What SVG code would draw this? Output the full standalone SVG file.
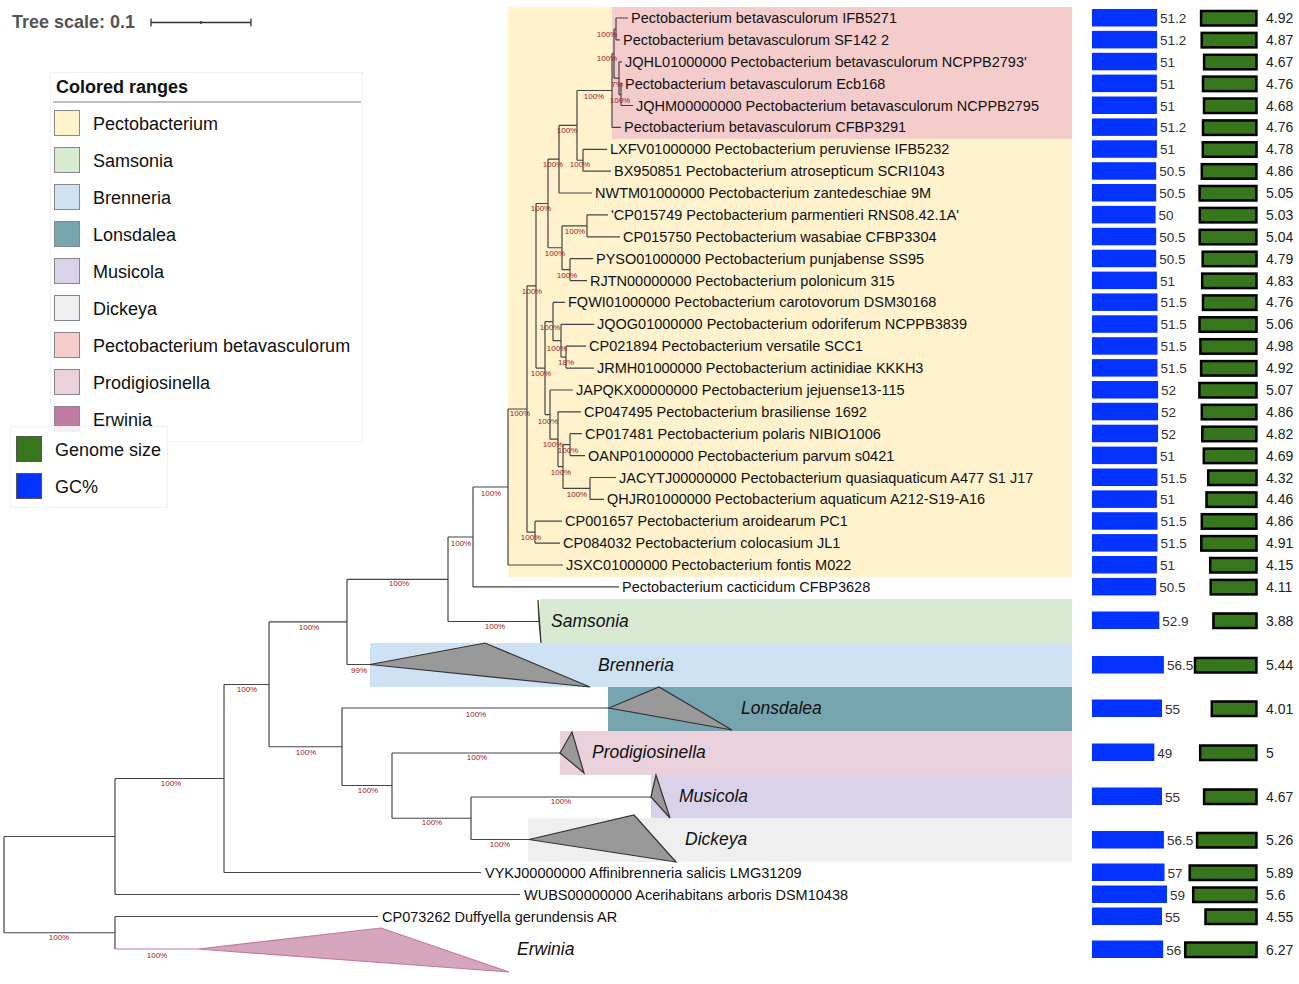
<svg xmlns="http://www.w3.org/2000/svg" width="1299" height="984" viewBox="0 0 1299 984">
<style>
text{font-family:"Liberation Sans",Arial,Helvetica,sans-serif}
.lf{font-size:14.5px;fill:#111}
.cl{font-size:17.5px;font-style:italic;fill:#111}
.bs{font-size:8px;fill:#992222;text-anchor:middle}
.br{fill:none;stroke:#444;stroke-width:1.2}
.tri{fill:#999;stroke:#333;stroke-width:1.2}
.gc{fill:#0433ff}
.gs{fill:#38761d;stroke:#000;stroke-width:2.5}
.v1{font-size:13.5px;fill:#333}
.v2{font-size:14px;fill:#222}
.lg{font-size:18px;fill:#111}
.sw{stroke:#888;stroke-width:1}
</style>
<rect width="1299" height="984" fill="#fff"/>
<g id="tree-scale">
<text x="12" y="28" style="font-size:18px;font-weight:bold;fill:#555">Tree scale: 0.1</text>
<path d="M151 22.5H251M151 18.5V26.5M251 18.5V26.5M201 21V24" stroke="#333" stroke-width="1.3" fill="none"/>
</g>
<g id="ranges">
<rect x="508" y="7" width="564" height="570" fill="#fff2cc"/>
<rect x="612" y="7" width="460" height="132" fill="#f4cccc"/>
<rect x="540" y="599" width="532" height="44" fill="#d9ead3"/>
<rect x="370" y="643" width="702" height="44" fill="#cfe2f3"/>
<rect x="608" y="687" width="464" height="44" fill="#76a5af"/>
<rect x="560" y="731" width="512" height="44" fill="#ead1dc"/>
<rect x="651" y="775" width="421" height="43" fill="#d9d2e9"/>
<rect x="528" y="818" width="544" height="44" fill="#efefef"/>
</g>
<g id="connectors">
<path class="br" d="M616 18V39.9M616 18H628M616 39.9H620M621 83.6V105.5M621 83.6H622.5M621 105.5H633M619 61.8V94.6M619 61.8H622M619 94.6H621M614 29V78.2M614 29H616M614 78.2H619M612 53.6V127.4M612 53.6H614M612 127.4H621M577 90.5V160.25M577 90.5H612M577 160.25H583M583 149.3V171.2M583 149.3H607M583 171.2H611M559 125.4V193M559 125.4H577M559 193H592M548 159.2V247.75M548 159.2H559M548 247.75H562M562 225.85V269.65M562 225.85H587M562 269.65H570M587 214.9V236.8M587 214.9H608M587 236.8H620M570 258.7V280.6M570 258.7H593M570 280.6H587M536 203.5V368.1M536 203.5H548M536 368.1H545M545 321.6V414.6M545 321.6H553M545 414.6H550M553 302.4V340.7M553 302.4H565M553 340.7H561M561 324.3V357.15M561 324.3H594M561 357.15H566M566 346.2V368.1M566 346.2H586M566 368.1H594M550 390V439.2M550 390H573M550 439.2H558M558 411.8V466.55M558 411.8H581M558 466.55H563M563 444.65V488.45M563 444.65H570M563 488.45H590M570 433.7V455.6M570 433.7H582M570 455.6H585M590 477.5V499.4M590 477.5H616M590 499.4H604M527 285.8V532.15M527 285.8H536M527 532.15H535M535 521.2V543.1M535 521.2H562M535 543.1H560M508 409V565M508 409H527M508 565H563M473 487V586.9M473 487H508M473 586.9H619M448 537V621.5M448 537H473M448 621.5H539M347 579.3V664.5M347 579.3H448M347 664.5H370M269 621.9V746.75M269 621.9H347M269 746.75H342M342 708V785.5M342 708H609M342 785.5H392M392 753V818.25M392 753H560M392 818.25H471M471 797V839.5M471 797H651M471 839.5H529M224 684.5V872.5M224 684.5H269M224 872.5H481M115 778.5V894.5M115 778.5H224M115 894.5H520M115 916.5V949M115 916.5H378M4 836.5V932.75M4 836.5H115M4 932.75H115"/>
<path d="M115 949H198" stroke="#c27ba0" stroke-width="1.2" fill="none"/>
</g>
<g id="bootstrap">
<text class="bs" x="607" y="37">100%</text>
<text class="bs" x="607" y="61">100%</text>
<text class="bs" x="617" y="87">7%</text>
<text class="bs" x="594" y="99">100%</text>
<text class="bs" x="620" y="103">100%</text>
<text class="bs" x="567" y="133">100%</text>
<text class="bs" x="553" y="167">100%</text>
<text class="bs" x="580" y="167">100%</text>
<text class="bs" x="541" y="211">100%</text>
<text class="bs" x="575" y="234">100%</text>
<text class="bs" x="555" y="256">100%</text>
<text class="bs" x="567" y="278">100%</text>
<text class="bs" x="532" y="294">100%</text>
<text class="bs" x="550" y="330">100%</text>
<text class="bs" x="557" y="351">100%</text>
<text class="bs" x="566" y="365">18%</text>
<text class="bs" x="541" y="376">100%</text>
<text class="bs" x="520" y="416">100%</text>
<text class="bs" x="548" y="424">100%</text>
<text class="bs" x="553" y="447">100%</text>
<text class="bs" x="568" y="453">100%</text>
<text class="bs" x="561" y="475">100%</text>
<text class="bs" x="577" y="497">100%</text>
<text class="bs" x="531" y="540">100%</text>
<text class="bs" x="491" y="496">100%</text>
<text class="bs" x="461" y="546">100%</text>
<text class="bs" x="399" y="586">100%</text>
<text class="bs" x="495" y="629">100%</text>
<text class="bs" x="309" y="630">100%</text>
<text class="bs" x="359" y="673">99%</text>
<text class="bs" x="247" y="692">100%</text>
<text class="bs" x="476" y="717">100%</text>
<text class="bs" x="306" y="755">100%</text>
<text class="bs" x="477" y="760">100%</text>
<text class="bs" x="368" y="793">100%</text>
<text class="bs" x="561" y="804">100%</text>
<text class="bs" x="432" y="825">100%</text>
<text class="bs" x="500" y="847">100%</text>
<text class="bs" x="171" y="786">100%</text>
<text class="bs" x="59" y="940">100%</text>
<text class="bs" x="157" y="958">100%</text>
</g>
<g id="leaves">
<g id="leaf1"><text class="lf" x="631" y="23">Pectobacterium betavasculorum IFB5271</text><rect class="gc" x="1092" y="9" width="65.1" height="17.5"/><text class="v1" x="1160" y="23">51.2</text><rect class="gs" x="1201.1" y="11" width="55.3" height="14.5"/><text class="v2" x="1266" y="23">4.92</text></g>
<g id="leaf2"><text class="lf" x="623" y="44.9">Pectobacterium betavasculorum SF142 2</text><rect class="gc" x="1092" y="30.9" width="65.1" height="17.5"/><text class="v1" x="1160" y="44.9">51.2</text><rect class="gs" x="1201.7" y="32.9" width="54.7" height="14.5"/><text class="v2" x="1266" y="44.9">4.87</text></g>
<g id="leaf3"><text class="lf" x="625" y="66.8">JQHL01000000 Pectobacterium betavasculorum NCPPB2793'</text><rect class="gc" x="1092" y="52.8" width="64.9" height="17.5"/><text class="v1" x="1160" y="66.8">51</text><rect class="gs" x="1204.1" y="54.8" width="52.4" height="14.5"/><text class="v2" x="1266" y="66.8">4.67</text></g>
<g id="leaf4"><text class="lf" x="625" y="88.6">Pectobacterium betavasculorum Ecb168</text><rect class="gc" x="1092" y="74.6" width="64.9" height="17.5"/><text class="v1" x="1160" y="88.6">51</text><rect class="gs" x="1203" y="76.6" width="53.4" height="14.5"/><text class="v2" x="1266" y="88.6">4.76</text></g>
<g id="leaf5"><text class="lf" x="636" y="110.5">JQHM00000000 Pectobacterium betavasculorum NCPPB2795</text><rect class="gc" x="1092" y="96.5" width="64.9" height="17.5"/><text class="v1" x="1160" y="110.5">51</text><rect class="gs" x="1204" y="98.5" width="52.5" height="14.5"/><text class="v2" x="1266" y="110.5">4.68</text></g>
<g id="leaf6"><text class="lf" x="624" y="132.4">Pectobacterium betavasculorum CFBP3291</text><rect class="gc" x="1092" y="118.4" width="65.1" height="17.5"/><text class="v1" x="1160" y="132.4">51.2</text><rect class="gs" x="1203" y="120.4" width="53.4" height="14.5"/><text class="v2" x="1266" y="132.4">4.76</text></g>
<g id="leaf7"><text class="lf" x="610" y="154.3">LXFV01000000 Pectobacterium peruviense IFB5232</text><rect class="gc" x="1092" y="140.3" width="64.9" height="17.5"/><text class="v1" x="1160" y="154.3">51</text><rect class="gs" x="1202.8" y="142.3" width="53.7" height="14.5"/><text class="v2" x="1266" y="154.3">4.78</text></g>
<g id="leaf8"><text class="lf" x="614" y="176.2">BX950851 Pectobacterium atrosepticum SCRI1043</text><rect class="gc" x="1092" y="162.2" width="64.2" height="17.5"/><text class="v1" x="1159.2" y="176.2">50.5</text><rect class="gs" x="1201.8" y="164.2" width="54.6" height="14.5"/><text class="v2" x="1266" y="176.2">4.86</text></g>
<g id="leaf9"><text class="lf" x="595" y="198">NWTM01000000 Pectobacterium zantedeschiae 9M</text><rect class="gc" x="1092" y="184" width="64.2" height="17.5"/><text class="v1" x="1159.2" y="198">50.5</text><rect class="gs" x="1199.6" y="186" width="56.8" height="14.5"/><text class="v2" x="1266" y="198">5.05</text></g>
<g id="leaf10"><text class="lf" x="611" y="219.9">'CP015749 Pectobacterium parmentieri RNS08.42.1A'</text><rect class="gc" x="1092" y="205.9" width="63.6" height="17.5"/><text class="v1" x="1158.6" y="219.9">50</text><rect class="gs" x="1199.8" y="207.9" width="56.6" height="14.5"/><text class="v2" x="1266" y="219.9">5.03</text></g>
<g id="leaf11"><text class="lf" x="623" y="241.8">CP015750 Pectobacterium wasabiae CFBP3304</text><rect class="gc" x="1092" y="227.8" width="64.2" height="17.5"/><text class="v1" x="1159.2" y="241.8">50.5</text><rect class="gs" x="1199.7" y="229.8" width="56.7" height="14.5"/><text class="v2" x="1266" y="241.8">5.04</text></g>
<g id="leaf12"><text class="lf" x="596" y="263.7">PYSO01000000 Pectobacterium punjabense SS95</text><rect class="gc" x="1092" y="249.7" width="64.2" height="17.5"/><text class="v1" x="1159.2" y="263.7">50.5</text><rect class="gs" x="1202.7" y="251.7" width="53.8" height="14.5"/><text class="v2" x="1266" y="263.7">4.79</text></g>
<g id="leaf13"><text class="lf" x="590" y="285.6">RJTN00000000 Pectobacterium polonicum 315</text><rect class="gc" x="1092" y="271.6" width="64.9" height="17.5"/><text class="v1" x="1160" y="285.6">51</text><rect class="gs" x="1202.2" y="273.6" width="54.3" height="14.5"/><text class="v2" x="1266" y="285.6">4.83</text></g>
<g id="leaf14"><text class="lf" x="568" y="307.4">FQWI01000000 Pectobacterium carotovorum DSM30168</text><rect class="gc" x="1092" y="293.4" width="65.5" height="17.5"/><text class="v1" x="1160.5" y="307.4">51.5</text><rect class="gs" x="1203" y="295.4" width="53.4" height="14.5"/><text class="v2" x="1266" y="307.4">4.76</text></g>
<g id="leaf15"><text class="lf" x="597" y="329.3">JQOG01000000 Pectobacterium odoriferum NCPPB3839</text><rect class="gc" x="1092" y="315.3" width="65.5" height="17.5"/><text class="v1" x="1160.5" y="329.3">51.5</text><rect class="gs" x="1199.5" y="317.3" width="57" height="14.5"/><text class="v2" x="1266" y="329.3">5.06</text></g>
<g id="leaf16"><text class="lf" x="589" y="351.2">CP021894 Pectobacterium versatile SCC1</text><rect class="gc" x="1092" y="337.2" width="65.5" height="17.5"/><text class="v1" x="1160.5" y="351.2">51.5</text><rect class="gs" x="1200.4" y="339.2" width="56" height="14.5"/><text class="v2" x="1266" y="351.2">4.98</text></g>
<g id="leaf17"><text class="lf" x="597" y="373.1">JRMH01000000 Pectobacterium actinidiae KKKH3</text><rect class="gc" x="1092" y="359.1" width="65.5" height="17.5"/><text class="v1" x="1160.5" y="373.1">51.5</text><rect class="gs" x="1201.1" y="361.1" width="55.3" height="14.5"/><text class="v2" x="1266" y="373.1">4.92</text></g>
<g id="leaf18"><text class="lf" x="576" y="395">JAPQKX00000000 Pectobacterium jejuense13-115</text><rect class="gc" x="1092" y="381" width="66.1" height="17.5"/><text class="v1" x="1161.1" y="395">52</text><rect class="gs" x="1199.4" y="383" width="57.1" height="14.5"/><text class="v2" x="1266" y="395">5.07</text></g>
<g id="leaf19"><text class="lf" x="584" y="416.8">CP047495 Pectobacterium brasiliense 1692</text><rect class="gc" x="1092" y="402.8" width="66.1" height="17.5"/><text class="v1" x="1161.1" y="416.8">52</text><rect class="gs" x="1201.8" y="404.8" width="54.6" height="14.5"/><text class="v2" x="1266" y="416.8">4.86</text></g>
<g id="leaf20"><text class="lf" x="585" y="438.7">CP017481 Pectobacterium polaris NIBIO1006</text><rect class="gc" x="1092" y="424.7" width="66.1" height="17.5"/><text class="v1" x="1161.1" y="438.7">52</text><rect class="gs" x="1202.3" y="426.7" width="54.1" height="14.5"/><text class="v2" x="1266" y="438.7">4.82</text></g>
<g id="leaf21"><text class="lf" x="588" y="460.6">OANP01000000 Pectobacterium parvum s0421</text><rect class="gc" x="1092" y="446.6" width="64.9" height="17.5"/><text class="v1" x="1160" y="460.6">51</text><rect class="gs" x="1203.8" y="448.6" width="52.6" height="14.5"/><text class="v2" x="1266" y="460.6">4.69</text></g>
<g id="leaf22"><text class="lf" x="619" y="482.5">JACYTJ00000000 Pectobacterium quasiaquaticum A477 S1 J17</text><rect class="gc" x="1092" y="468.5" width="65.5" height="17.5"/><text class="v1" x="1160.5" y="482.5">51.5</text><rect class="gs" x="1208.2" y="470.5" width="48.3" height="14.5"/><text class="v2" x="1266" y="482.5">4.32</text></g>
<g id="leaf23"><text class="lf" x="607" y="504.4">QHJR01000000 Pectobacterium aquaticum A212-S19-A16</text><rect class="gc" x="1092" y="490.4" width="64.9" height="17.5"/><text class="v1" x="1160" y="504.4">51</text><rect class="gs" x="1206.5" y="492.4" width="49.9" height="14.5"/><text class="v2" x="1266" y="504.4">4.46</text></g>
<g id="leaf24"><text class="lf" x="565" y="526.2">CP001657 Pectobacterium aroidearum PC1</text><rect class="gc" x="1092" y="512.2" width="65.5" height="17.5"/><text class="v1" x="1160.5" y="526.2">51.5</text><rect class="gs" x="1201.8" y="514.2" width="54.6" height="14.5"/><text class="v2" x="1266" y="526.2">4.86</text></g>
<g id="leaf25"><text class="lf" x="563" y="548.1">CP084032 Pectobacterium colocasium JL1</text><rect class="gc" x="1092" y="534.1" width="65.5" height="17.5"/><text class="v1" x="1160.5" y="548.1">51.5</text><rect class="gs" x="1201.3" y="536.1" width="55.2" height="14.5"/><text class="v2" x="1266" y="548.1">4.91</text></g>
<g id="leaf26"><text class="lf" x="566" y="570">JSXC01000000 Pectobacterium fontis M022</text><rect class="gc" x="1092" y="556" width="64.9" height="17.5"/><text class="v1" x="1160" y="570">51</text><rect class="gs" x="1210.2" y="558" width="46.3" height="14.5"/><text class="v2" x="1266" y="570">4.15</text></g>
<g id="leaf27"><text class="lf" x="622" y="591.9">Pectobacterium cacticidum CFBP3628</text><rect class="gc" x="1092" y="577.9" width="64.2" height="17.5"/><text class="v1" x="1159.2" y="591.9">50.5</text><rect class="gs" x="1210.7" y="579.9" width="45.8" height="14.5"/><text class="v2" x="1266" y="591.9">4.11</text></g>
<g id="leaf-vykj"><text class="lf" x="485" y="877.5">VYKJ00000000 Affinibrenneria salicis LMG31209</text><rect class="gc" x="1092" y="863.5" width="72.5" height="17.5"/><text class="v1" x="1167.5" y="877.5">57</text><rect class="gs" x="1189.7" y="865.5" width="66.7" height="14.5"/><text class="v2" x="1266" y="877.5">5.89</text></g>
<g id="leaf-wubs"><text class="lf" x="524" y="899.5">WUBS00000000 Acerihabitans arboris DSM10438</text><rect class="gc" x="1092" y="885.5" width="75" height="17.5"/><text class="v1" x="1170" y="899.5">59</text><rect class="gs" x="1193.2" y="887.5" width="63.3" height="14.5"/><text class="v2" x="1266" y="899.5">5.6</text></g>
<g id="leaf-cp073262"><text class="lf" x="382" y="921.5">CP073262 Duffyella gerundensis AR</text><rect class="gc" x="1092" y="907.5" width="70" height="17.5"/><text class="v1" x="1165" y="921.5">55</text><rect class="gs" x="1205.5" y="909.5" width="51" height="14.5"/><text class="v2" x="1266" y="921.5">4.55</text></g>
</g>
<g id="clades">
<g id="samsonia"><polygon class="tri" points="539,621.5 538,600 541,643"/><text class="cl" x="551" y="626.5">Samsonia</text><rect class="gc" x="1092" y="611.5" width="67.3" height="17.5"/><text class="v1" x="1162.3" y="625.5">52.9</text><rect class="gs" x="1213.4" y="613.5" width="43.1" height="14.5"/><text class="v2" x="1266" y="625.5">3.88</text></g>
<g id="brenneria"><polygon class="tri" points="370,664.5 485,643 590,687"/><text class="cl" x="598" y="671">Brenneria</text><rect class="gc" x="1092" y="656" width="71.9" height="17.5"/><text class="v1" x="1166.9" y="670">56.5</text><rect class="gs" x="1195" y="658" width="61.4" height="14.5"/><text class="v2" x="1266" y="670">5.44</text></g>
<g id="lonsdalea"><polygon class="tri" points="609,708 659,687 732,730"/><text class="cl" x="741" y="714">Lonsdalea</text><rect class="gc" x="1092" y="699.5" width="70" height="17.5"/><text class="v1" x="1165" y="713.5">55</text><rect class="gs" x="1211.8" y="701.5" width="44.6" height="14.5"/><text class="v2" x="1266" y="713.5">4.01</text></g>
<g id="prodigiosinella"><polygon class="tri" points="560,753 572,732 584,773"/><text class="cl" x="592" y="758">Prodigiosinella</text><rect class="gc" x="1092" y="743.5" width="62.3" height="17.5"/><text class="v1" x="1157.3" y="757.5">49</text><rect class="gs" x="1200.2" y="745.5" width="56.25" height="14.5"/><text class="v2" x="1266" y="757.5">5</text></g>
<g id="musicola"><polygon class="tri" points="651,797 656,775 670,818"/><text class="cl" x="679" y="802">Musicola</text><rect class="gc" x="1092" y="787.5" width="70" height="17.5"/><text class="v1" x="1165" y="801.5">55</text><rect class="gs" x="1204.1" y="789.5" width="52.4" height="14.5"/><text class="v2" x="1266" y="801.5">4.67</text></g>
<g id="dickeya"><polygon class="tri" points="529,839.5 634,815 676,862"/><text class="cl" x="685" y="845">Dickeya</text><rect class="gc" x="1092" y="831" width="71.9" height="17.5"/><text class="v1" x="1166.9" y="845">56.5</text><rect class="gs" x="1197.1" y="833" width="59.3" height="14.5"/><text class="v2" x="1266" y="845">5.26</text></g>
<g id="erwinia"><polygon points="198,949 381,928 509,972" fill="#d5a6bd" stroke="#c27ba0" stroke-width="1.2"/><text class="cl" x="517" y="955">Erwinia</text><rect class="gc" x="1092" y="940.5" width="71.2" height="17.5"/><text class="v1" x="1166.2" y="954.5">56</text><rect class="gs" x="1185.3" y="942.5" width="71.2" height="14.5"/><text class="v2" x="1266" y="954.5">6.27</text></g>
</g>
<g id="legend-ranges">
<rect x="50.5" y="72.5" width="312" height="369" fill="#fff" stroke="#f0f0f0"/>
<text x="56" y="93" style="font-size:18px;font-weight:bold;fill:#111">Colored ranges</text>
<path d="M53 102H361" stroke="#aaa" stroke-width="1.5"/>
<rect class="sw" x="54.5" y="110.5" width="25" height="25" fill="#fff2cc"/><text class="lg" x="93" y="129.5">Pectobacterium</text>
<rect class="sw" x="54.5" y="147.5" width="25" height="25" fill="#d9ead3"/><text class="lg" x="93" y="166.5">Samsonia</text>
<rect class="sw" x="54.5" y="184.5" width="25" height="25" fill="#cfe2f3"/><text class="lg" x="93" y="203.5">Brenneria</text>
<rect class="sw" x="54.5" y="221.5" width="25" height="25" fill="#76a5af"/><text class="lg" x="93" y="240.5">Lonsdalea</text>
<rect class="sw" x="54.5" y="258.5" width="25" height="25" fill="#d9d2e9"/><text class="lg" x="93" y="277.5">Musicola</text>
<rect class="sw" x="54.5" y="295.5" width="25" height="25" fill="#efefef"/><text class="lg" x="93" y="314.5">Dickeya</text>
<rect class="sw" x="54.5" y="332.5" width="25" height="25" fill="#f4cccc"/><text class="lg" x="93" y="351.5">Pectobacterium betavasculorum</text>
<rect class="sw" x="54.5" y="369.5" width="25" height="25" fill="#ead1dc"/><text class="lg" x="93" y="388.5">Prodigiosinella</text>
<rect class="sw" x="54.5" y="406.5" width="25" height="25" fill="#c27ba0"/><text class="lg" x="93" y="425.5">Erwinia</text>
</g>
<g id="legend-bars">
<rect x="10.5" y="426.5" width="157" height="81" fill="#fff" fill-opacity="0.88" stroke="#f0f0f0"/>
<rect x="16.5" y="436.5" width="25" height="25" fill="#38761d" stroke="#555"/><text class="lg" x="55" y="455.5">Genome size</text>
<rect x="16.5" y="473.5" width="25" height="25" fill="#0433ff" stroke="#555"/><text class="lg" x="55" y="492.5">GC%</text>
</g>
</svg>
